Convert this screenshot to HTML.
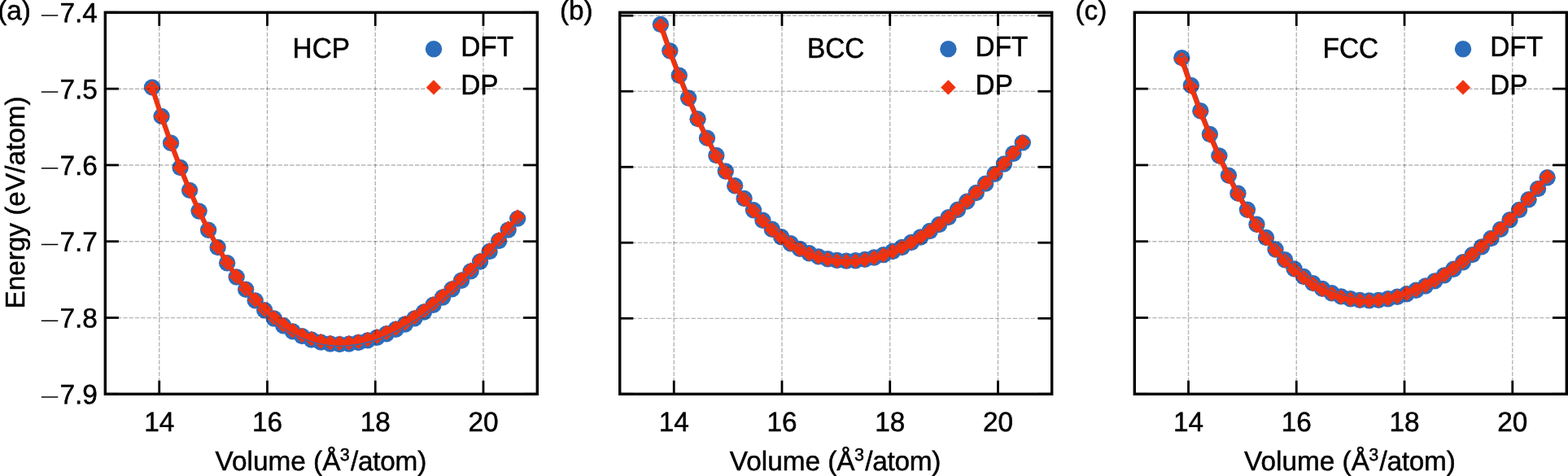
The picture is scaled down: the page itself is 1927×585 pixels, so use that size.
<!DOCTYPE html>
<html lang="en">
<head>
<meta charset="utf-8">
<title>Energy-volume curves: DFT vs DP</title>
<style>
html,body{margin:0;padding:0;background:#fff;}
body{width:1927px;height:585px;overflow:hidden;}
svg{display:block;}
text{font-family:"Liberation Sans",sans-serif;font-size:33.33px;fill:#000;stroke:#000;stroke-width:0.5px;text-rendering:geometricPrecision;}
.grid{stroke:#000;stroke-opacity:0.29;stroke-width:1.4;stroke-dasharray:5.3 2.02;fill:none;}
.spine{stroke:#000;stroke-width:3.4;fill:none;stroke-linecap:square;}
.tick{stroke:#000;stroke-width:2.8;fill:none;}
.dft{fill:#2b6dbb;}
.dp{fill:#f0320f;stroke:#f0320f;stroke-width:0.6;stroke-linejoin:round;}
.dpl{stroke:#f0320f;stroke-width:5.9;fill:none;stroke-linejoin:round;stroke-linecap:square;}
.dftl{stroke:#2b6dbb;stroke-width:5.5;fill:none;stroke-linejoin:round;stroke-linecap:square;}
.mn{stroke:none;}
</style>
</head>
<body>
<svg width="1927" height="585" viewBox="0 0 1927 585">
<rect x="0" y="0" width="1927" height="585" fill="#fff"/>
<g id="panel-a">
<g class="dft">
<circle cx="187" cy="107.41" r="10.2"/><circle cx="198.52" cy="142.86" r="10.2"/><circle cx="210.03" cy="175.68" r="10.2"/><circle cx="221.55" cy="205.98" r="10.2"/><circle cx="233.07" cy="233.87" r="10.2"/><circle cx="244.58" cy="259.44" r="10.2"/><circle cx="256.1" cy="282.79" r="10.2"/><circle cx="267.62" cy="304.01" r="10.2"/><circle cx="279.13" cy="323.2" r="10.2"/><circle cx="290.65" cy="340.44" r="10.2"/><circle cx="302.17" cy="355.81" r="10.2"/><circle cx="313.68" cy="369.39" r="10.2"/><circle cx="325.2" cy="381.27" r="10.2"/><circle cx="336.72" cy="391.51" r="10.2"/><circle cx="348.23" cy="400.19" r="10.2"/><circle cx="359.75" cy="407.37" r="10.2"/><circle cx="371.27" cy="413.13" r="10.2"/><circle cx="382.78" cy="417.52" r="10.2"/><circle cx="394.3" cy="420.6" r="10.2"/><circle cx="405.82" cy="422.44" r="10.2"/><circle cx="417.33" cy="423.09" r="10.2"/><circle cx="428.85" cy="422.6" r="10.2"/><circle cx="440.37" cy="421.02" r="10.2"/><circle cx="451.88" cy="418.41" r="10.2"/><circle cx="463.4" cy="414.81" r="10.2"/><circle cx="474.92" cy="410.26" r="10.2"/><circle cx="486.43" cy="404.81" r="10.2"/><circle cx="497.95" cy="398.5" r="10.2"/><circle cx="509.47" cy="391.37" r="10.2"/><circle cx="520.98" cy="383.45" r="10.2"/><circle cx="532.5" cy="374.79" r="10.2"/><circle cx="544.02" cy="365.43" r="10.2"/><circle cx="555.53" cy="355.38" r="10.2"/><circle cx="567.05" cy="344.69" r="10.2"/><circle cx="578.57" cy="333.38" r="10.2"/><circle cx="590.08" cy="321.49" r="10.2"/><circle cx="601.6" cy="309.04" r="10.2"/><circle cx="613.12" cy="296.06" r="10.2"/><circle cx="624.63" cy="282.58" r="10.2"/><circle cx="636.15" cy="268.62" r="10.2"/>
</g>
<g class="dp">
<path d="M187 99.06l9.05 9.05l-9.05 9.05l-9.05 -9.05z"/><path d="M198.52 134.34l9.05 9.05l-9.05 9.05l-9.05 -9.05z"/><path d="M210.03 166.98l9.05 9.05l-9.05 9.05l-9.05 -9.05z"/><path d="M221.55 197.1l9.05 9.05l-9.05 9.05l-9.05 -9.05z"/><path d="M233.07 224.82l9.05 9.05l-9.05 9.05l-9.05 -9.05z"/><path d="M244.58 250.28l9.05 9.05l-9.05 9.05l-9.05 -9.05z"/><path d="M256.1 273.51l9.05 9.05l-9.05 9.05l-9.05 -9.05z"/><path d="M267.62 294.62l9.05 9.05l-9.05 9.05l-9.05 -9.05z"/><path d="M279.13 313.7l9.05 9.05l-9.05 9.05l-9.05 -9.05z"/><path d="M290.65 330.83l9.05 9.05l-9.05 9.05l-9.05 -9.05z"/><path d="M302.17 346.08l9.05 9.05l-9.05 9.05l-9.05 -9.05z"/><path d="M313.68 359.55l9.05 9.05l-9.05 9.05l-9.05 -9.05z"/><path d="M325.2 371.32l9.05 9.05l-9.05 9.05l-9.05 -9.05z"/><path d="M336.72 381.5l9.05 9.05l-9.05 9.05l-9.05 -9.05z"/><path d="M348.23 390.12l9.05 9.05l-9.05 9.05l-9.05 -9.05z"/><path d="M359.75 397.23l9.05 9.05l-9.05 9.05l-9.05 -9.05z"/><path d="M371.27 402.93l9.05 9.05l-9.05 9.05l-9.05 -9.05z"/><path d="M382.78 407.26l9.05 9.05l-9.05 9.05l-9.05 -9.05z"/><path d="M394.3 410.28l9.05 9.05l-9.05 9.05l-9.05 -9.05z"/><path d="M405.82 412.05l9.05 9.05l-9.05 9.05l-9.05 -9.05z"/><path d="M417.33 412.64l9.05 9.05l-9.05 9.05l-9.05 -9.05z"/><path d="M428.85 412.14l9.05 9.05l-9.05 9.05l-9.05 -9.05z"/><path d="M440.37 410.55l9.05 9.05l-9.05 9.05l-9.05 -9.05z"/><path d="M451.88 407.93l9.05 9.05l-9.05 9.05l-9.05 -9.05z"/><path d="M463.4 404.32l9.05 9.05l-9.05 9.05l-9.05 -9.05z"/><path d="M474.92 399.76l9.05 9.05l-9.05 9.05l-9.05 -9.05z"/><path d="M486.43 394.3l9.05 9.05l-9.05 9.05l-9.05 -9.05z"/><path d="M497.95 387.98l9.05 9.05l-9.05 9.05l-9.05 -9.05z"/><path d="M509.47 380.84l9.05 9.05l-9.05 9.05l-9.05 -9.05z"/><path d="M520.98 372.91l9.05 9.05l-9.05 9.05l-9.05 -9.05z"/><path d="M532.5 364.24l9.05 9.05l-9.05 9.05l-9.05 -9.05z"/><path d="M544.02 354.82l9.05 9.05l-9.05 9.05l-9.05 -9.05z"/><path d="M555.53 344.72l9.05 9.05l-9.05 9.05l-9.05 -9.05z"/><path d="M567.05 333.97l9.05 9.05l-9.05 9.05l-9.05 -9.05z"/><path d="M578.57 322.61l9.05 9.05l-9.05 9.05l-9.05 -9.05z"/><path d="M590.08 310.66l9.05 9.05l-9.05 9.05l-9.05 -9.05z"/><path d="M601.6 298.16l9.05 9.05l-9.05 9.05l-9.05 -9.05z"/><path d="M613.12 285.12l9.05 9.05l-9.05 9.05l-9.05 -9.05z"/><path d="M624.63 271.59l9.05 9.05l-9.05 9.05l-9.05 -9.05z"/><path d="M636.15 257.57l9.05 9.05l-9.05 9.05l-9.05 -9.05z"/>
</g>
<g class="grid">
<path d="M195.73 484.3V15.3"/><path d="M328.48 484.3V15.3"/><path d="M461.23 484.3V15.3"/><path d="M593.98 484.3V15.3"/><path d="M129.3 15.4H660.3"/><path d="M129.3 109.2H660.3"/><path d="M129.3 203H660.3"/><path d="M129.3 296.8H660.3"/><path d="M129.3 390.6H660.3"/><path d="M129.3 484.4H660.3"/>
</g>
<g class="tick">
<path d="M195.73 484.3v-16.6"/><path d="M195.73 15.3v16.6"/><path d="M328.48 484.3v-16.6"/><path d="M328.48 15.3v16.6"/><path d="M461.23 484.3v-16.6"/><path d="M461.23 15.3v16.6"/><path d="M593.98 484.3v-16.6"/><path d="M593.98 15.3v16.6"/><path d="M129.3 15.3h16.6"/><path d="M660.3 15.3h-17.2"/><path d="M129.3 109.1h16.6"/><path d="M660.3 109.1h-17.2"/><path d="M129.3 202.9h16.6"/><path d="M660.3 202.9h-17.2"/><path d="M129.3 296.7h16.6"/><path d="M660.3 296.7h-17.2"/><path d="M129.3 390.5h16.6"/><path d="M660.3 390.5h-17.2"/><path d="M129.3 484.3h16.6"/><path d="M660.3 484.3h-17.2"/>
</g>
<polyline class="dftl" points="187.07,107.18 198.52,142.49 210.03,175.42 221.55,205.84 233.07,233.87 244.58,259.53 256.1,282.96 267.62,304.25 279.13,323.48 290.65,340.74 302.17,356.11 313.68,369.68 325.2,381.54 336.72,391.77 348.23,400.43 359.75,407.6 371.27,413.35 382.78,417.73 394.3,420.8 405.82,422.64 417.33,423.29 428.85,422.8 440.37,421.22 451.88,418.62 463.4,415.02 474.92,410.48 486.43,405.03 497.95,398.73 509.47,391.61 520.98,383.7 532.5,375.04 544.02,365.69 555.53,355.65 567.05,344.97 578.57,333.66 590.08,321.78 601.6,309.34 613.12,296.37 624.63,282.89 636.15,268.93"/>
<polyline class="dpl" points="187,108.11 198.52,143.39 210.03,176.03 221.55,206.16 233.07,233.87 244.58,259.33 256.1,282.56 267.62,303.67 279.13,322.75 290.65,339.88 302.17,355.13 313.68,368.6 325.2,380.37 336.72,390.55 348.23,399.17 359.75,406.28 371.27,411.98 382.78,416.31 394.3,419.33 405.82,421.1 417.33,421.69 428.85,421.19 440.37,419.6 451.88,416.98 463.4,413.37 474.92,408.81 486.43,403.35 497.95,397.03 509.47,389.89 520.98,381.96 532.5,373.29 544.02,363.87 555.53,353.77 567.05,343.02 578.57,331.66 590.08,319.71 601.6,307.21 613.12,294.17 624.63,280.64 636.15,266.62"/>
<rect class="spine" x="129.3" y="15.3" width="531" height="469"/>
<text transform="translate(195.73 530) scale(1 1.015)" text-anchor="middle">14</text><text transform="translate(328.48 530) scale(1 1.015)" text-anchor="middle">16</text><text transform="translate(461.23 530) scale(1 1.015)" text-anchor="middle">18</text><text transform="translate(593.98 530) scale(1 1.015)" text-anchor="middle">20</text>
<text transform="translate(394.3 578)" text-anchor="middle">Volume (Å<tspan dx="-0.6" dy="-11.6" font-size="21.5px">3</tspan><tspan dx="1.3" dy="11.6" letter-spacing="-0.25">/atom)</tspan></text>
<text transform="translate(394.8 71) scale(1 1.045)" text-anchor="middle">HCP</text>
<circle class="dft" cx="533" cy="60.2" r="10.2"/>
<path class="dp" d="M533 98.55l8.85 8.85l-8.85 8.85l-8.85 -8.85z"/>
<text transform="translate(566.2 69) scale(1 1.045)">DFT</text>
<text transform="translate(566.2 116) scale(1 1.045)">DP</text>
<text transform="translate(-2.8 24)">(a)</text>
<text transform="translate(119.8 27.35) rotate(0.03) scale(1 1.015)" text-anchor="end"><tspan class="mn" font-size="21" textLength="24.6" lengthAdjust="spacingAndGlyphs" dy="-1.2">−</tspan><tspan dy="1.2">7.4</tspan></text><text transform="translate(119.8 121.15) rotate(0.03) scale(1 1.015)" text-anchor="end"><tspan class="mn" font-size="21" textLength="24.6" lengthAdjust="spacingAndGlyphs" dy="-1.2">−</tspan><tspan dy="1.2">7.5</tspan></text><text transform="translate(119.8 214.95) rotate(0.03) scale(1 1.015)" text-anchor="end"><tspan class="mn" font-size="21" textLength="24.6" lengthAdjust="spacingAndGlyphs" dy="-1.2">−</tspan><tspan dy="1.2">7.6</tspan></text><text transform="translate(119.8 308.75) rotate(0.03) scale(1 1.015)" text-anchor="end"><tspan class="mn" font-size="21" textLength="24.6" lengthAdjust="spacingAndGlyphs" dy="-1.2">−</tspan><tspan dy="1.2">7.7</tspan></text><text transform="translate(119.8 402.55) rotate(0.03) scale(1 1.015)" text-anchor="end"><tspan class="mn" font-size="21" textLength="24.6" lengthAdjust="spacingAndGlyphs" dy="-1.2">−</tspan><tspan dy="1.2">7.8</tspan></text><text transform="translate(119.8 496.35) rotate(0.03) scale(1 1.015)" text-anchor="end"><tspan class="mn" font-size="21" textLength="24.6" lengthAdjust="spacingAndGlyphs" dy="-1.2">−</tspan><tspan dy="1.2">7.9</tspan></text>
<text transform="translate(29.6 249) rotate(-90)" text-anchor="middle">Energy (eV/atom)</text>
</g>
<g id="panel-b">
<g class="dft">
<circle cx="811.9" cy="29.97" r="10.2"/><circle cx="823.31" cy="62.56" r="10.2"/><circle cx="834.72" cy="92.71" r="10.2"/><circle cx="846.12" cy="120.54" r="10.2"/><circle cx="857.53" cy="146.15" r="10.2"/><circle cx="868.94" cy="169.63" r="10.2"/><circle cx="880.35" cy="191.07" r="10.2"/><circle cx="891.75" cy="210.57" r="10.2"/><circle cx="903.16" cy="228.21" r="10.2"/><circle cx="914.57" cy="244.06" r="10.2"/><circle cx="925.98" cy="258.22" r="10.2"/><circle cx="937.38" cy="270.74" r="10.2"/><circle cx="948.79" cy="281.71" r="10.2"/><circle cx="960.2" cy="291.18" r="10.2"/><circle cx="971.61" cy="299.22" r="10.2"/><circle cx="983.02" cy="305.89" r="10.2"/><circle cx="994.42" cy="311.25" r="10.2"/><circle cx="1005.83" cy="315.36" r="10.2"/><circle cx="1017.24" cy="318.26" r="10.2"/><circle cx="1028.65" cy="320.02" r="10.2"/><circle cx="1040.05" cy="320.67" r="10.2"/><circle cx="1051.46" cy="320.27" r="10.2"/><circle cx="1062.87" cy="318.86" r="10.2"/><circle cx="1074.28" cy="316.48" r="10.2"/><circle cx="1085.68" cy="313.17" r="10.2"/><circle cx="1097.09" cy="308.98" r="10.2"/><circle cx="1108.5" cy="303.93" r="10.2"/><circle cx="1119.91" cy="298.07" r="10.2"/><circle cx="1131.32" cy="291.43" r="10.2"/><circle cx="1142.72" cy="284.04" r="10.2"/><circle cx="1154.13" cy="275.93" r="10.2"/><circle cx="1165.54" cy="267.14" r="10.2"/><circle cx="1176.95" cy="257.69" r="10.2"/><circle cx="1188.35" cy="247.61" r="10.2"/><circle cx="1199.76" cy="236.93" r="10.2"/><circle cx="1211.17" cy="225.67" r="10.2"/><circle cx="1222.58" cy="213.86" r="10.2"/><circle cx="1233.98" cy="201.52" r="10.2"/><circle cx="1245.39" cy="188.68" r="10.2"/><circle cx="1256.8" cy="175.34" r="10.2"/>
</g>
<g class="dp">
<path d="M811.9 22.22l9.05 9.05l-9.05 9.05l-9.05 -9.05z"/><path d="M823.31 54.75l9.05 9.05l-9.05 9.05l-9.05 -9.05z"/><path d="M834.72 84.83l9.05 9.05l-9.05 9.05l-9.05 -9.05z"/><path d="M846.12 112.6l9.05 9.05l-9.05 9.05l-9.05 -9.05z"/><path d="M857.53 138.15l9.05 9.05l-9.05 9.05l-9.05 -9.05z"/><path d="M868.94 161.57l9.05 9.05l-9.05 9.05l-9.05 -9.05z"/><path d="M880.35 182.94l9.05 9.05l-9.05 9.05l-9.05 -9.05z"/><path d="M891.75 202.38l9.05 9.05l-9.05 9.05l-9.05 -9.05z"/><path d="M903.16 219.96l9.05 9.05l-9.05 9.05l-9.05 -9.05z"/><path d="M914.57 235.78l9.05 9.05l-9.05 9.05l-9.05 -9.05z"/><path d="M925.98 249.92l9.05 9.05l-9.05 9.05l-9.05 -9.05z"/><path d="M937.38 262.42l9.05 9.05l-9.05 9.05l-9.05 -9.05z"/><path d="M948.79 273.36l9.05 9.05l-9.05 9.05l-9.05 -9.05z"/><path d="M960.2 282.81l9.05 9.05l-9.05 9.05l-9.05 -9.05z"/><path d="M971.61 290.82l9.05 9.05l-9.05 9.05l-9.05 -9.05z"/><path d="M983.02 297.46l9.05 9.05l-9.05 9.05l-9.05 -9.05z"/><path d="M994.42 302.8l9.05 9.05l-9.05 9.05l-9.05 -9.05z"/><path d="M1005.83 306.88l9.05 9.05l-9.05 9.05l-9.05 -9.05z"/><path d="M1017.24 309.76l9.05 9.05l-9.05 9.05l-9.05 -9.05z"/><path d="M1028.65 311.49l9.05 9.05l-9.05 9.05l-9.05 -9.05z"/><path d="M1040.05 312.12l9.05 9.05l-9.05 9.05l-9.05 -9.05z"/><path d="M1051.46 311.66l9.05 9.05l-9.05 9.05l-9.05 -9.05z"/><path d="M1062.87 310.19l9.05 9.05l-9.05 9.05l-9.05 -9.05z"/><path d="M1074.28 307.74l9.05 9.05l-9.05 9.05l-9.05 -9.05z"/><path d="M1085.68 304.37l9.05 9.05l-9.05 9.05l-9.05 -9.05z"/><path d="M1097.09 300.12l9.05 9.05l-9.05 9.05l-9.05 -9.05z"/><path d="M1108.5 295l9.05 9.05l-9.05 9.05l-9.05 -9.05z"/><path d="M1119.91 289.08l9.05 9.05l-9.05 9.05l-9.05 -9.05z"/><path d="M1131.32 282.38l9.05 9.05l-9.05 9.05l-9.05 -9.05z"/><path d="M1142.72 274.91l9.05 9.05l-9.05 9.05l-9.05 -9.05z"/><path d="M1154.13 266.72l9.05 9.05l-9.05 9.05l-9.05 -9.05z"/><path d="M1165.54 257.85l9.05 9.05l-9.05 9.05l-9.05 -9.05z"/><path d="M1176.95 248.32l9.05 9.05l-9.05 9.05l-9.05 -9.05z"/><path d="M1188.35 238.16l9.05 9.05l-9.05 9.05l-9.05 -9.05z"/><path d="M1199.76 227.43l9.05 9.05l-9.05 9.05l-9.05 -9.05z"/><path d="M1211.17 216.12l9.05 9.05l-9.05 9.05l-9.05 -9.05z"/><path d="M1222.58 204.26l9.05 9.05l-9.05 9.05l-9.05 -9.05z"/><path d="M1233.98 191.87l9.05 9.05l-9.05 9.05l-9.05 -9.05z"/><path d="M1245.39 178.98l9.05 9.05l-9.05 9.05l-9.05 -9.05z"/><path d="M1256.8 165.59l9.05 9.05l-9.05 9.05l-9.05 -9.05z"/>
</g>
<g class="grid">
<path d="M828.23 484.3V15.3"/><path d="M960.98 484.3V15.3"/><path d="M1093.72 484.3V15.3"/><path d="M1226.47 484.3V15.3"/><path d="M761.7 19.3H1292.7"/><path d="M761.7 112.32H1292.7"/><path d="M761.7 205.34H1292.7"/><path d="M761.7 298.36H1292.7"/><path d="M761.7 391.38H1292.7"/><path d="M761.7 484.4H1292.7"/>
</g>
<g class="tick">
<path d="M828.23 484.3v-16.6"/><path d="M828.23 15.3v16.6"/><path d="M960.98 484.3v-16.6"/><path d="M960.98 15.3v16.6"/><path d="M1093.72 484.3v-16.6"/><path d="M1093.72 15.3v16.6"/><path d="M1226.47 484.3v-16.6"/><path d="M1226.47 15.3v16.6"/><path d="M761.7 19.2h16.6"/><path d="M1292.7 19.2h-17.2"/><path d="M761.7 112.22h16.6"/><path d="M1292.7 112.22h-17.2"/><path d="M761.7 205.24h16.6"/><path d="M1292.7 205.24h-17.2"/><path d="M761.7 298.26h16.6"/><path d="M1292.7 298.26h-17.2"/><path d="M761.7 391.28h16.6"/><path d="M1292.7 391.28h-17.2"/><path d="M761.7 484.3h16.6"/><path d="M1292.7 484.3h-17.2"/>
</g>
<polyline class="dftl" points="812.18,30.19 823.31,62.01 834.72,92.2 846.12,120.06 857.53,145.7 868.94,169.21 880.35,190.68 891.75,210.21 903.16,227.87 914.57,243.74 925.98,257.92 937.38,270.46 948.79,281.45 960.2,290.93 971.61,298.99 983.02,305.67 994.42,311.04 1005.83,315.16 1017.24,318.06 1028.65,319.83 1040.05,320.48 1051.46,320.08 1062.87,318.68 1074.28,316.31 1085.68,313.01 1097.09,308.85 1108.5,303.84 1119.91,298.02 1131.32,291.43 1142.72,284.1 1154.13,276.05 1165.54,267.3 1176.95,257.89 1188.35,247.83 1199.76,237.17 1211.17,225.92 1222.58,214.12 1233.98,201.8 1245.39,188.97 1256.8,175.63"/>
<polyline class="dpl" points="811.9,31.27 823.31,63.8 834.72,93.88 846.12,121.65 857.53,147.2 868.94,170.62 880.35,192 891.75,211.43 903.16,229.01 914.57,244.84 925.98,258.97 937.38,271.47 948.79,282.41 960.2,291.86 971.61,299.87 983.02,306.51 994.42,311.85 1005.83,315.94 1017.24,318.81 1028.65,320.54 1040.05,321.17 1051.46,320.71 1062.87,319.24 1074.28,316.79 1085.68,313.42 1097.09,309.17 1108.5,304.06 1119.91,298.13 1131.32,291.43 1142.72,283.96 1154.13,275.77 1165.54,266.9 1176.95,257.37 1188.35,247.21 1199.76,236.48 1211.17,225.17 1222.58,213.31 1233.98,200.92 1245.39,188.03 1256.8,174.64"/>
<rect class="spine" x="761.7" y="15.3" width="531" height="469"/>
<text transform="translate(828.23 530) scale(1 1.015)" text-anchor="middle">14</text><text transform="translate(960.98 530) scale(1 1.015)" text-anchor="middle">16</text><text transform="translate(1093.72 530) scale(1 1.015)" text-anchor="middle">18</text><text transform="translate(1226.47 530) scale(1 1.015)" text-anchor="middle">20</text>
<text transform="translate(1026.5 578)" text-anchor="middle">Volume (Å<tspan dx="-0.6" dy="-11.6" font-size="21.5px">3</tspan><tspan dx="1.3" dy="11.6" letter-spacing="-0.25">/atom)</tspan></text>
<text transform="translate(1027.2 71) scale(1 1.045)" text-anchor="middle">BCC</text>
<circle class="dft" cx="1165.4" cy="60.2" r="10.2"/>
<path class="dp" d="M1165.4 98.55l8.85 8.85l-8.85 8.85l-8.85 -8.85z"/>
<text transform="translate(1198.6 69) scale(1 1.045)">DFT</text>
<text transform="translate(1198.6 116) scale(1 1.045)">DP</text>
<text transform="translate(687.9 24)">(b)</text>
</g>
<g id="panel-c">
<g class="dft">
<circle cx="1452.3" cy="71.16" r="10.2"/><circle cx="1463.82" cy="104.97" r="10.2"/><circle cx="1475.34" cy="136.19" r="10.2"/><circle cx="1486.86" cy="164.97" r="10.2"/><circle cx="1498.38" cy="191.4" r="10.2"/><circle cx="1509.9" cy="215.59" r="10.2"/><circle cx="1521.42" cy="237.66" r="10.2"/><circle cx="1532.94" cy="257.69" r="10.2"/><circle cx="1544.46" cy="275.78" r="10.2"/><circle cx="1555.98" cy="292.01" r="10.2"/><circle cx="1567.51" cy="306.48" r="10.2"/><circle cx="1579.03" cy="319.25" r="10.2"/><circle cx="1590.55" cy="330.41" r="10.2"/><circle cx="1602.07" cy="340.03" r="10.2"/><circle cx="1613.59" cy="348.16" r="10.2"/><circle cx="1625.11" cy="354.89" r="10.2"/><circle cx="1636.63" cy="360.26" r="10.2"/><circle cx="1648.15" cy="364.35" r="10.2"/><circle cx="1659.67" cy="367.2" r="10.2"/><circle cx="1671.19" cy="368.87" r="10.2"/><circle cx="1682.71" cy="369.4" r="10.2"/><circle cx="1694.23" cy="368.86" r="10.2"/><circle cx="1705.75" cy="367.28" r="10.2"/><circle cx="1717.27" cy="364.7" r="10.2"/><circle cx="1728.79" cy="361.18" r="10.2"/><circle cx="1740.31" cy="356.76" r="10.2"/><circle cx="1751.83" cy="351.46" r="10.2"/><circle cx="1763.35" cy="345.33" r="10.2"/><circle cx="1774.87" cy="338.4" r="10.2"/><circle cx="1786.39" cy="330.71" r="10.2"/><circle cx="1797.92" cy="322.28" r="10.2"/><circle cx="1809.44" cy="313.16" r="10.2"/><circle cx="1820.96" cy="303.37" r="10.2"/><circle cx="1832.48" cy="292.93" r="10.2"/><circle cx="1844" cy="281.88" r="10.2"/><circle cx="1855.52" cy="270.24" r="10.2"/><circle cx="1867.04" cy="258.04" r="10.2"/><circle cx="1878.56" cy="245.29" r="10.2"/><circle cx="1890.08" cy="232.03" r="10.2"/><circle cx="1901.6" cy="218.28" r="10.2"/>
</g>
<g class="dp">
<path d="M1452.3 64.21l9.05 9.05l-9.05 9.05l-9.05 -9.05z"/><path d="M1463.82 97.72l9.05 9.05l-9.05 9.05l-9.05 -9.05z"/><path d="M1475.34 128.64l9.05 9.05l-9.05 9.05l-9.05 -9.05z"/><path d="M1486.86 157.39l9.05 9.05l-9.05 9.05l-9.05 -9.05z"/><path d="M1498.38 183.79l9.05 9.05l-9.05 9.05l-9.05 -9.05z"/><path d="M1509.9 207.95l9.05 9.05l-9.05 9.05l-9.05 -9.05z"/><path d="M1521.42 229.99l9.05 9.05l-9.05 9.05l-9.05 -9.05z"/><path d="M1532.94 249.99l9.05 9.05l-9.05 9.05l-9.05 -9.05z"/><path d="M1544.46 268.05l9.05 9.05l-9.05 9.05l-9.05 -9.05z"/><path d="M1555.98 284.25l9.05 9.05l-9.05 9.05l-9.05 -9.05z"/><path d="M1567.51 298.69l9.05 9.05l-9.05 9.05l-9.05 -9.05z"/><path d="M1579.03 311.43l9.05 9.05l-9.05 9.05l-9.05 -9.05z"/><path d="M1590.55 322.56l9.05 9.05l-9.05 9.05l-9.05 -9.05z"/><path d="M1602.07 332.08l9.05 9.05l-9.05 9.05l-9.05 -9.05z"/><path d="M1613.59 340.11l9.05 9.05l-9.05 9.05l-9.05 -9.05z"/><path d="M1625.11 346.74l9.05 9.05l-9.05 9.05l-9.05 -9.05z"/><path d="M1636.63 352.01l9.05 9.05l-9.05 9.05l-9.05 -9.05z"/><path d="M1648.15 356l9.05 9.05l-9.05 9.05l-9.05 -9.05z"/><path d="M1659.67 358.75l9.05 9.05l-9.05 9.05l-9.05 -9.05z"/><path d="M1671.19 360.32l9.05 9.05l-9.05 9.05l-9.05 -9.05z"/><path d="M1682.71 360.75l9.05 9.05l-9.05 9.05l-9.05 -9.05z"/><path d="M1694.23 359.94l9.05 9.05l-9.05 9.05l-9.05 -9.05z"/><path d="M1705.75 358.15l9.05 9.05l-9.05 9.05l-9.05 -9.05z"/><path d="M1717.27 355.41l9.05 9.05l-9.05 9.05l-9.05 -9.05z"/><path d="M1728.79 351.73l9.05 9.05l-9.05 9.05l-9.05 -9.05z"/><path d="M1740.31 347.28l9.05 9.05l-9.05 9.05l-9.05 -9.05z"/><path d="M1751.83 341.94l9.05 9.05l-9.05 9.05l-9.05 -9.05z"/><path d="M1763.35 335.78l9.05 9.05l-9.05 9.05l-9.05 -9.05z"/><path d="M1774.87 328.82l9.05 9.05l-9.05 9.05l-9.05 -9.05z"/><path d="M1786.39 321.09l9.05 9.05l-9.05 9.05l-9.05 -9.05z"/><path d="M1797.92 312.63l9.05 9.05l-9.05 9.05l-9.05 -9.05z"/><path d="M1809.44 303.47l9.05 9.05l-9.05 9.05l-9.05 -9.05z"/><path d="M1820.96 293.63l9.05 9.05l-9.05 9.05l-9.05 -9.05z"/><path d="M1832.48 283.15l9.05 9.05l-9.05 9.05l-9.05 -9.05z"/><path d="M1844 272.05l9.05 9.05l-9.05 9.05l-9.05 -9.05z"/><path d="M1855.52 260.37l9.05 9.05l-9.05 9.05l-9.05 -9.05z"/><path d="M1867.04 248.12l9.05 9.05l-9.05 9.05l-9.05 -9.05z"/><path d="M1878.56 235.33l9.05 9.05l-9.05 9.05l-9.05 -9.05z"/><path d="M1890.08 222.02l9.05 9.05l-9.05 9.05l-9.05 -9.05z"/><path d="M1901.6 208.23l9.05 9.05l-9.05 9.05l-9.05 -9.05z"/>
</g>
<g class="grid">
<path d="M1460.52 484.3V15.3"/><path d="M1593.27 484.3V15.3"/><path d="M1726.02 484.3V15.3"/><path d="M1858.77 484.3V15.3"/><path d="M1394.3 15.4H1925.3"/><path d="M1394.3 109.2H1925.3"/><path d="M1394.3 203H1925.3"/><path d="M1394.3 296.8H1925.3"/><path d="M1394.3 390.6H1925.3"/><path d="M1394.3 484.4H1925.3"/>
</g>
<g class="tick">
<path d="M1460.52 484.3v-16.6"/><path d="M1460.52 15.3v16.6"/><path d="M1593.27 484.3v-16.6"/><path d="M1593.27 15.3v16.6"/><path d="M1726.02 484.3v-16.6"/><path d="M1726.02 15.3v16.6"/><path d="M1858.77 484.3v-16.6"/><path d="M1858.77 15.3v16.6"/><path d="M1394.3 15.3h16.6"/><path d="M1925.3 15.3h-17.2"/><path d="M1394.3 109.1h16.6"/><path d="M1925.3 109.1h-17.2"/><path d="M1394.3 202.9h16.6"/><path d="M1925.3 202.9h-17.2"/><path d="M1394.3 296.7h16.6"/><path d="M1925.3 296.7h-17.2"/><path d="M1394.3 390.5h16.6"/><path d="M1925.3 390.5h-17.2"/><path d="M1394.3 484.3h16.6"/><path d="M1925.3 484.3h-17.2"/>
</g>
<polyline class="dftl" points="1452.59,71.38 1463.82,104.39 1475.34,135.65 1486.86,164.46 1498.38,190.93 1509.9,215.15 1521.42,237.25 1532.94,257.31 1544.46,275.42 1555.98,291.68 1567.51,306.17 1579.03,318.96 1590.55,330.14 1602.07,339.78 1613.59,347.92 1625.11,354.67 1636.63,360.05 1648.15,364.14 1659.67,367 1671.19,368.68 1682.71,369.22 1694.23,368.76 1705.75,367.34 1717.27,364.85 1728.79,361.37 1740.31,356.96 1751.83,351.67 1763.35,345.55 1774.87,338.62 1786.39,330.94 1797.92,322.52 1809.44,313.41 1820.96,303.63 1832.48,293.2 1844,282.15 1855.52,270.52 1867.04,258.33 1878.56,245.59 1890.08,232.33 1901.6,218.59"/>
<polyline class="dpl" points="1452.3,73.26 1463.82,106.77 1475.34,137.69 1486.86,166.44 1498.38,192.84 1509.9,217 1521.42,239.04 1532.94,259.04 1544.46,277.1 1555.98,293.3 1567.51,307.74 1579.03,320.48 1590.55,331.61 1602.07,341.13 1613.59,349.16 1625.11,355.79 1636.63,361.06 1648.15,365.05 1659.67,367.8 1671.19,369.37 1682.71,369.8 1694.23,368.99 1705.75,367.2 1717.27,364.46 1728.79,360.78 1740.31,356.33 1751.83,350.99 1763.35,344.83 1774.87,337.87 1786.39,330.14 1797.92,321.68 1809.44,312.52 1820.96,302.68 1832.48,292.2 1844,281.1 1855.52,269.42 1867.04,257.17 1878.56,244.38 1890.08,231.07 1901.6,217.28"/>
<rect class="spine" x="1394.3" y="15.3" width="531" height="469"/>
<text transform="translate(1460.52 530) scale(1 1.015)" text-anchor="middle">14</text><text transform="translate(1593.27 530) scale(1 1.015)" text-anchor="middle">16</text><text transform="translate(1726.02 530) scale(1 1.015)" text-anchor="middle">18</text><text transform="translate(1858.77 530) scale(1 1.015)" text-anchor="middle">20</text>
<text transform="translate(1658.8 578)" text-anchor="middle">Volume (Å<tspan dx="-0.6" dy="-11.6" font-size="21.5px">3</tspan><tspan dx="1.3" dy="11.6" letter-spacing="-0.25">/atom)</tspan></text>
<text transform="translate(1659.8 71) scale(1 1.045)" text-anchor="middle">FCC</text>
<circle class="dft" cx="1798" cy="60.2" r="10.2"/>
<path class="dp" d="M1798 98.55l8.85 8.85l-8.85 8.85l-8.85 -8.85z"/>
<text transform="translate(1831.2 69) scale(1 1.045)">DFT</text>
<text transform="translate(1831.2 116) scale(1 1.045)">DP</text>
<text transform="translate(1321.5 24)">(c)</text>
</g>
</svg>
</body>
</html>
